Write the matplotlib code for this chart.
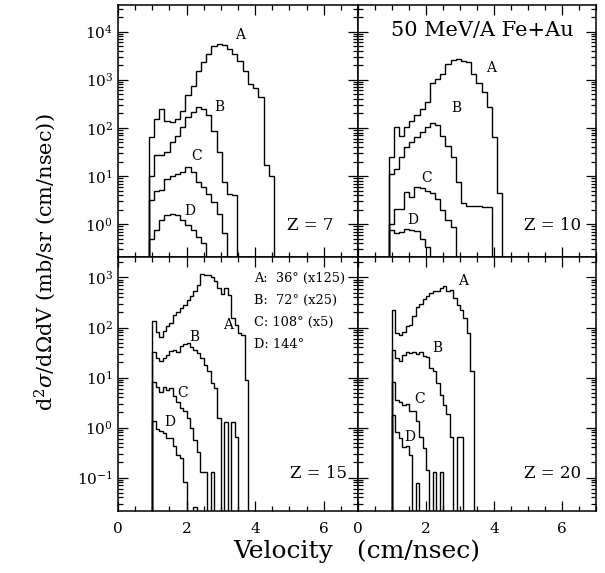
import numpy as np
import matplotlib
matplotlib.use("Agg")
import matplotlib.pyplot as plt
from matplotlib.ticker import MultipleLocator, LogLocator, LogFormatterMathtext, NullFormatter

plt.rcParams['font.family'] = ['DejaVu Serif']
plt.rcParams['mathtext.fontset'] = 'dejavuserif'

# bin layout per panel: (first edge, bin width)
bins_z7 = (0.9, 0.152)
bins_z10 = (0.9, 0.152)
bins_z15 = (1.0, 0.1)
bins_z20 = (1.0, 0.1)

# Z = 7
z7_a = [65, 155, 245, 141, 132, 155, 229, 490, 724, 1480, 2290, 3390, 5010,
        5620, 5250, 4270, 3390, 2450, 1550, 813, 676, 427, 16.6, 10.2]
z7_b = [10.2, 26.9, 26.9, 31.6, 50, 69, 102, 166, 209, 269, 245, 182, 87,
        31.6, 7.6, 4.3, 4.0]
z7_c = [3.2, 5.0, 5.2, 8.7, 10.2, 11.2, 12.0, 15.5, 12.0, 7.6, 5.9, 4.3, 2.9,
        1.66, 0.65]
z7_d = [0.50, 0.76, 1.20, 1.55, 1.66, 1.55, 1.20, 0.95, 0.76, 0.55, 0.40]

# Z = 10
z10_a = [24.5, 102, 69, 102, 141, 182, 245, 339, 871, 1020, 1320, 2090, 2570,
         2690, 2450, 2290, 1320, 871, 550, 269, 65, 4.5]
z10_b = [11.2, 14.1, 24.5, 40, 50, 65, 81, 102, 126, 112, 69, 43, 24.5, 7.6,
         2.7, 2.4, 2.35, 2.35, 2.3, 2.3]
z10_c = [1.0, 2.1, 2.1, 4.7, 3.7, 5.9, 5.75, 4.9, 4.5, 3.4, 1.95, 1.2, 0.87]
z10_d = [0.76, 0.65, 0.69, 0.81, 0.76, 0.72, 0.50, 0.34]

# Z = 15
z15_a = [132, 83, 66, 85, 105, 123, 178, 204, 245, 282, 355, 417, 525, 708,
         1175, 1120, 1100, 1000, 832, 617, 468, 617, 447, 155, 112, 78, 71, 8.9]
z15_b = [33, 24.5, 21.4, 25, 28, 34, 35.5, 33, 42, 47, 49, 40, 35.5, 31, 24.5,
         17.8, 13.2, 7.8, 6.2, 1.55, 0, 1.3, 0, 1.3, 0.66, 0]
z15_c = [8.3, 6.6, 5.2, 6.6, 5.6, 6.2, 4.2, 3.3, 2.5, 2.1, 1.55, 0.98, 0.56,
         0.33, 0.13, 0.13, 0, 0.13]
z15_d = [1.32, 0.93, 0.85, 0.78, 0.63, 0.63, 0.42, 0.28, 0.25, 0.083, 0, 0,
         0.026]

# Z = 20
z20_a = [224, 78, 71, 81, 105, 112, 166, 263, 295, 372, 417, 490, 525, 525,
         617, 661, 537, 562, 398, 282, 224, 155, 78, 13.2]
z20_b = [35.5, 24.5, 21.4, 28, 32, 31, 33, 29.5, 33, 27.5, 26.3, 15.5, 13.2,
         7.8, 4.5, 2.8, 1.86, 0.66, 0, 0.66, 0.66]
z20_c = [8.3, 3.5, 3.2, 2.8, 2.95, 2.1, 2.15, 1.32, 0.66, 0.39, 0.14, 0, 0.13,
         0, 0.13]
z20_d = [1.78, 0.83, 0.62, 0.40, 0.42, 0.28, 0, 0.078]

legend_lines = ["A:  36\u00b0 (x125)", "B:  72\u00b0 (x25)",
                "C: 108\u00b0 (x5)", "D: 144\u00b0"]

W, H = 605, 573
FLOOR = 1e-4


def fx(px):
    return px / W


def fy(py):
    return 1 - py / H


def draw_hist(ax, start, width, vals):
    vals = np.asarray(vals, dtype=float)
    vals = np.where(vals > 0, vals, FLOOR)
    edges = start + width * np.arange(len(vals) + 1)
    ax.stairs(vals, edges, baseline=FLOOR, color='black', lw=1.0)


def style_axes(ax, ylim, left_labels, bottom_labels):
    ax.set_yscale('log')
    ax.set_xlim(0, 7)
    ax.set_ylim(*ylim)
    ax.xaxis.set_major_locator(MultipleLocator(2))
    ax.xaxis.set_minor_locator(MultipleLocator(0.5))
    ax.yaxis.set_major_locator(LogLocator(base=10))
    ax.yaxis.set_minor_locator(LogLocator(base=10, subs=np.arange(2, 10)))
    ax.yaxis.set_major_formatter(LogFormatterMathtext())
    ax.yaxis.set_minor_formatter(NullFormatter())
    ax.tick_params(which='both', direction='in', top=True, right=True,
                   width=0.9, labelsize=11)
    ax.tick_params(which='major', length=7)
    ax.tick_params(which='minor', length=3.5)
    ax.tick_params(axis='x', pad=8)
    ax.tick_params(labelleft=left_labels, labelbottom=bottom_labels)
    for s in ax.spines.values():
        s.set_linewidth(1.1)


fig = plt.figure(figsize=(W / 100, H / 100), dpi=100)

x0, xm, x1 = fx(118), fx(358), fx(596)
ytop, ymid, ybot = fy(5), fy(257), fy(511)

ax_tl = fig.add_axes([x0, ymid, xm - x0, ytop - ymid])
ax_tr = fig.add_axes([xm, ymid, x1 - xm, ytop - ymid])
ax_bl = fig.add_axes([x0, ybot, xm - x0, ymid - ybot])
ax_br = fig.add_axes([xm, ybot, x1 - xm, ymid - ybot])

top_lim = (10 ** -0.68, 10 ** 4.55)
bot_lim = (10 ** -1.67, 10 ** 3.41)

for ax, b, series in [(ax_tl, bins_z7, [z7_a, z7_b, z7_c, z7_d]),
                      (ax_tr, bins_z10, [z10_a, z10_b, z10_c, z10_d]),
                      (ax_bl, bins_z15, [z15_a, z15_b, z15_c, z15_d]),
                      (ax_br, bins_z20, [z20_a, z20_b, z20_c, z20_d])]:
    for vals in series:
        draw_hist(ax, b[0], b[1], vals)

style_axes(ax_tl, top_lim, True, False)
style_axes(ax_tr, top_lim, False, False)
style_axes(ax_bl, bot_lim, True, True)
style_axes(ax_br, bot_lim, False, True)

# curve letters
letters = {
    'A': [(240, 35), (491, 68), (228, 325), (463, 281)],
    'B': [(219, 107), (456, 108), (194, 337), (437, 348)],
    'C': [(197, 156), (427, 178), (183, 393), (420, 399)],
    'D': [(190, 211), (413, 220), (170, 422), (410, 437)],
}
for name, spots in letters.items():
    for px, py in spots:
        fig.text(fx(px), fy(py), name, fontsize=10, ha='center', va='center')

# charge labels
for txt, px, py in [("Z = 7", 310, 226), ("Z = 10", 553, 226),
                    ("Z = 15", 318, 474), ("Z = 20", 553, 474)]:
    fig.text(fx(px), fy(py), txt, fontsize=12, ha='center', va='center')

fig.text(fx(482), fy(30), "50 MeV/A Fe+Au", fontsize=15, ha='center',
         va='center')

for i, line in enumerate(legend_lines):
    fig.text(fx(254), fy(278 + 22 * i), line, fontsize=9.3, ha='left',
             va='center')

fig.text(fx(357), fy(551), "Velocity   (cm/nsec)", fontsize=18, ha='center',
         va='center')
fig.text(fx(45), fy(262), r"d$^2\sigma$/d$\Omega$dV (mb/sr (cm/nsec))",
         fontsize=15, rotation=90, ha='center', va='center')

fig.savefig("out.png", dpi=100)
